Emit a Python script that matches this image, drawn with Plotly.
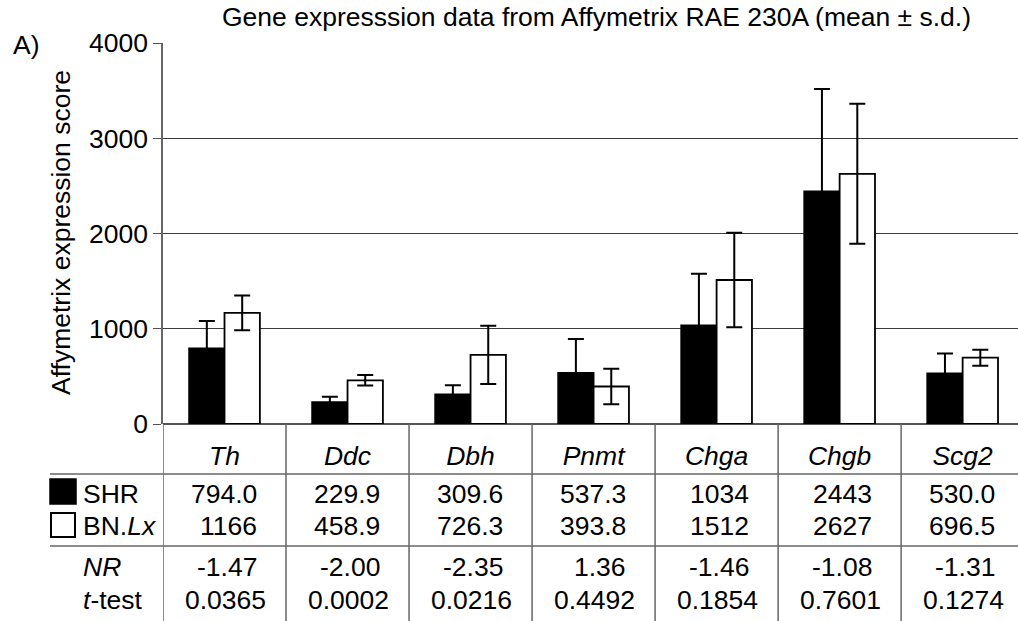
import plotly.graph_objects as go

W, H = 1018, 621

genes = ["Th", "Ddc", "Dbh", "Pnmt", "Chga", "Chgb", "Scg2"]
shr_mean = [794.0, 229.9, 309.6, 537.3, 1034, 2443, 530.0]
bn_mean = [1166, 458.9, 726.3, 393.8, 1512, 2627, 696.5]
shr_sd = [287, 55, 97, 356, 543, 1074, 210]
bn_sd = [183, 56, 306, 187, 497, 735, 84]

shr_text = ["794.0", "229.9", "309.6", "537.3", "1034", "2443", "530.0"]
bn_text = ["1166", "458.9", "726.3", "393.8", "1512", "2627", "696.5"]
nr_text = ["-1.47", "-2.00", "-2.35", "1.36", "-1.46", "-1.08", "-1.31"]
ttest_text = ["0.0365", "0.0002", "0.0216", "0.4492", "0.1854", "0.7601", "0.1274"]

y_ticks = [0, 1000, 2000, 3000, 4000]

FONT = "Liberation Sans, Arial, sans-serif"
FS = 26.5


def px(x):
    return x / W


def py(y):
    return 1 - y / H


xs = list(range(len(genes)))

fig = go.Figure()
fig.add_trace(go.Bar(
    x=xs, y=shr_mean, name="SHR",
    marker=dict(color="black", line=dict(color="black", width=1.8)),
    error_y=dict(type="data", array=shr_sd, visible=True, color="black",
                 thickness=2, width=8),
))
fig.add_trace(go.Bar(
    x=xs, y=bn_mean, name="BN.Lx",
    marker=dict(color="white", line=dict(color="black", width=1.8)),
    error_y=dict(type="data", array=bn_sd, visible=True, color="black",
                 thickness=2, width=8),
))

fig.update_layout(
    template="none",
    width=W, height=H, autosize=False,
    margin=dict(l=0, r=0, t=0, b=0, pad=0, autoexpand=False),
    paper_bgcolor="white", plot_bgcolor="white",
    showlegend=False,
    barmode="group", bargap=0.425, bargroupgap=0,
    font=dict(family=FONT, size=FS, color="black"),
    xaxis=dict(
        domain=[px(163), 1], range=[-0.5, 6.45], automargin=False,
        tickmode="array", tickvals=xs,
        ticktext=["<i>%s</i>" % g for g in genes],
        ticks="", showgrid=False, zeroline=False, showline=False,
        ticklabelstandoff=13,
        tickfont=dict(family=FONT, size=FS),
    ),
    yaxis=dict(
        domain=[py(424), py(43)], range=[0, 4000], automargin=False,
        tickmode="array", tickvals=y_ticks,
        ticks="outside", ticklen=8, tickcolor="#555", tickwidth=1.2,
        showgrid=True, gridcolor="#3a3a3a", gridwidth=1.2,
        showline=True, linecolor="#666", linewidth=1.5,
        zeroline=True, zerolinecolor="#555", zerolinewidth=1.5,
        tickfont=dict(family=FONT, size=FS),
    ),
)

shapes = []
# column separators of table
for i in range(len(genes) + 1):
    shapes.append(dict(type="line", xref="x", yref="paper",
                       x0=i - 0.5, x1=i - 0.5, y0=0, y1=py(424),
                       line=dict(color="#666", width=1.5)))
# horizontal table rules
for yy in (474, 546):
    shapes.append(dict(type="line", xref="paper", yref="paper",
                       x0=px(50), x1=1, y0=py(yy), y1=py(yy),
                       line=dict(color="#666", width=1.5)))
# legend squares
shapes.append(dict(type="rect", xref="paper", yref="paper",
                   x0=px(50), x1=px(76), y0=py(504), y1=py(479),
                   fillcolor="black", line=dict(color="black", width=1.5)))
shapes.append(dict(type="rect", xref="paper", yref="paper",
                   x0=px(51), x1=px(75), y0=py(537), y1=py(513),
                   fillcolor="white", line=dict(color="black", width=2)))
fig.update_layout(shapes=shapes)

ann = []
ann.append(dict(text="Gene expresssion data from Affymetrix RAE 230A (mean ± s.d.)",
                xref="paper", yref="paper", x=px(596), y=py(17),
                xanchor="center", yanchor="middle", showarrow=False,
                font=dict(size=FS)))
ann.append(dict(text="A)", xref="paper", yref="paper", x=px(11), y=py(45),
                xanchor="left", yanchor="middle", showarrow=False,
                font=dict(size=FS)))
ann.append(dict(text="Affymetrix expression score", xref="paper", yref="paper",
                x=px(61), y=py(233), textangle=-90,
                xanchor="center", yanchor="middle", showarrow=False,
                font=dict(size=FS)))

row_labels = [("SHR", 494), ("BN.<i>Lx</i>", 526), ("<i>NR</i>", 567), ("<i>t</i>-test", 600)]
for lab, yy in row_labels:
    ann.append(dict(text=lab, xref="paper", yref="paper", x=px(81), y=py(yy),
                    xanchor="left", yanchor="middle", showarrow=False,
                    font=dict(size=FS)))

for row, yy in ((shr_text, 494), (bn_text, 526), (nr_text, 567)):
    for i, t in enumerate(row):
        ann.append(dict(text=t, xref="x", yref="paper", x=i, y=py(yy),
                        xanchor="right", xshift=34, yanchor="middle",
                        showarrow=False, font=dict(size=FS)))
for i, t in enumerate(ttest_text):
    ann.append(dict(text=t, xref="x", yref="paper", x=i, y=py(600),
                    xanchor="center", xshift=1, yanchor="middle",
                    showarrow=False, font=dict(size=FS)))

fig.update_layout(annotations=ann)

fig.write_html("out.html")
